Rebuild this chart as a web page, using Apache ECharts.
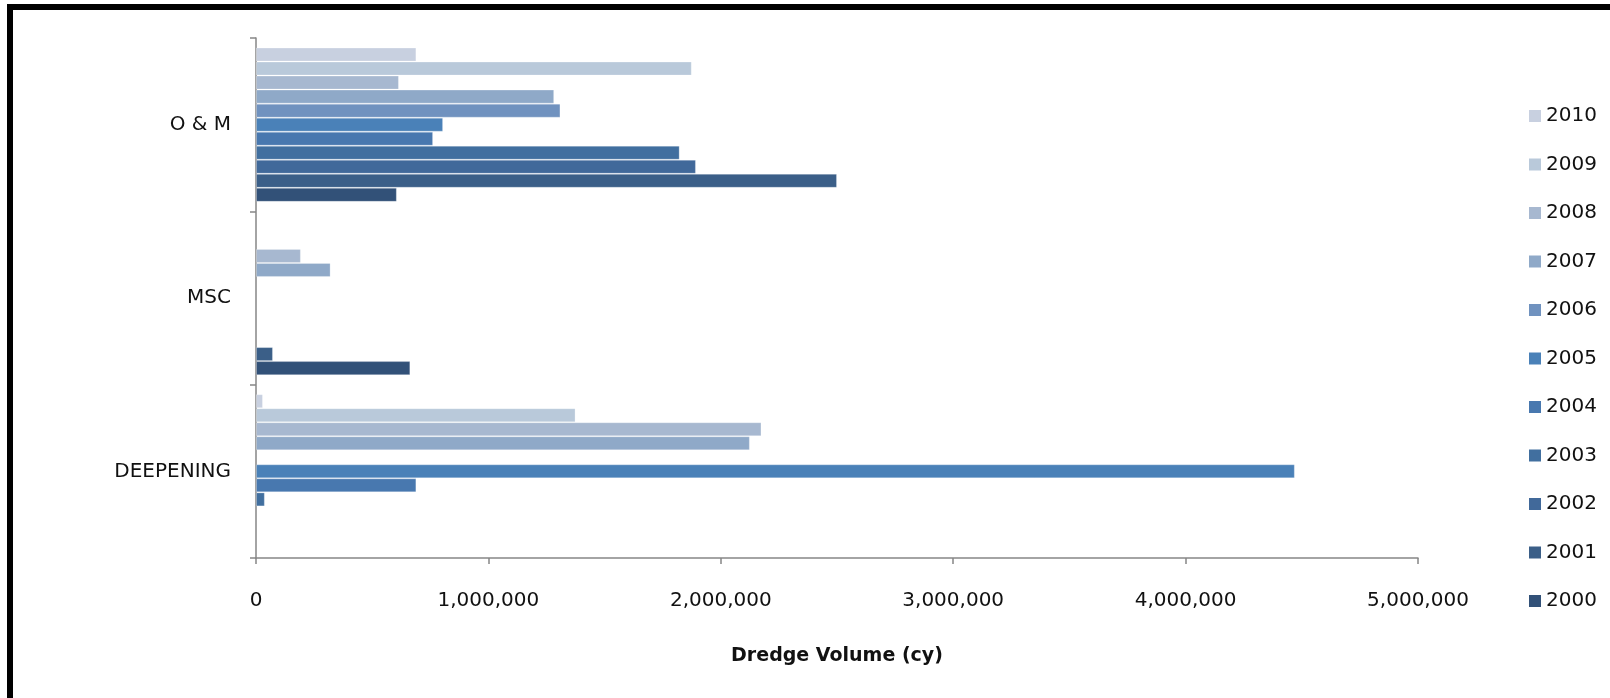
<!DOCTYPE html>
<html>
<head>
	<meta charset="UTF-8">
	<title>Dredge Volume</title>
	<style type="text/css">
		html, body { margin: 0; padding: 0; background: #fff; overflow: hidden; }
		#frame {
			position: absolute; left: 7px; top: 4px; width: 1620px; height: 720px;
			border-left: 6px solid #000; border-top: 6px solid #000;
		}
		#chart { position: absolute; left: 0; top: 0; width: 1610px; height: 698px; }
	</style>
	<script src="https://cdn.jsdelivr.net/npm/echarts@6/dist/echarts.min.js"></script>
</head>
<body>
	<div id="frame"></div>
	<div id="chart"></div>
	<script>
		// categories, bottom to top as drawn
		var categories = ['DEEPENING', 'MSC', 'O & M'];
		// years top to bottom inside each group
		var years = ['2010', '2009', '2008', '2007', '2006', '2005', '2004', '2003', '2002', '2001', '2000'];
		// values per year, same order as years
		var omValues = [690000, 1875000, 615000, 1283000, 1310000, 805000, 762000, 1823000, 1893000, 2500000, 606000];
		var mscValues = [null, null, 193000, 321000, null, null, null, null, null, 73000, 664000];
		var deepValues = [30000, 1375000, 2175000, 2125000, null, 4470000, 690000, 38000, null, null, null];
		var xTicks = [0, 1000000, 2000000, 3000000, 4000000, 5000000];

		var colors = ['#c8d0e0', '#b9c9da', '#a7b8d0', '#8fa9c8', '#7092bf', '#4a81b8',
			'#4878af', '#416f9f', '#41699a', '#3b5f88', '#325178'];

		var font = '"DejaVu Sans", sans-serif';
		var chart = echarts.init(document.getElementById('chart'));

		var series = years.map(function (y, i) {
			return {
				name: y,
				type: 'bar',
				barGap: 0,
				barCategoryGap: '11%',
				itemStyle: { color: colors[i], borderColor: 'rgba(255,255,255,0.25)', borderWidth: 1 },
				data: [deepValues[i], mscValues[i], omValues[i]]
			};
		});

		chart.setOption({
			animation: false,
			textStyle: { fontFamily: font },
			grid: { left: 256, right: 192, top: 38, bottom: 140 },
			legend: {
				orient: 'vertical',
				left: 1524, top: 101,
				icon: 'rect', itemWidth: 12, itemHeight: 12, itemGap: 28.5,
				itemStyle: { borderWidth: 0 },
				data: years,
				textStyle: { fontSize: 20, lineHeight: 20, color: '#111', fontFamily: font }
			},
			xAxis: {
				type: 'value',
				min: xTicks[0], max: xTicks[xTicks.length - 1], interval: 1000000,
				name: 'Dredge Volume (cy)',
				nameLocation: 'middle', nameGap: 89,
				nameTextStyle: { fontSize: 19, fontWeight: 'bold', color: '#111', fontFamily: font },
				axisLine: { show: true, lineStyle: { color: '#868686', width: 1.5 } },
				axisTick: { show: true, length: 6, lineStyle: { color: '#868686', width: 1.5 } },
				splitLine: { show: false },
				axisLabel: {
					margin: 33, fontSize: 20, color: '#111', fontFamily: font,
					formatter: function (v) { return v.toLocaleString('en-US'); }
				}
			},
			yAxis: {
				type: 'category',
				data: categories,
				axisLine: { show: true, lineStyle: { color: '#868686', width: 1.5 } },
				axisTick: { show: true, length: 6, lineStyle: { color: '#868686', width: 1.5 } },
				axisLabel: { margin: 25, fontSize: 20, color: '#111', fontFamily: font }
			},
			series: series
		});
	</script>
</body>
</html>
